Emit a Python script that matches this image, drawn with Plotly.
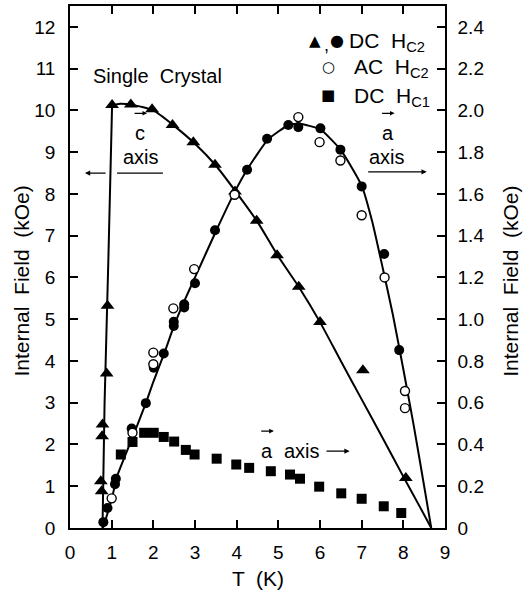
import plotly.graph_objects as go

# ---- data ----
# DC Hc2, c axis (left axis, kOe)
tri_T = [0.74, 0.76, 0.77, 0.78, 0.88, 0.90, 1.01, 1.46, 1.97, 2.46, 2.96, 3.48, 3.96, 4.48, 4.97, 5.49, 6.00, 7.03, 8.06]
tri_H = [1.12, 0.88, 2.20, 2.48, 3.70, 5.32, 10.13, 10.14, 10.03, 9.65, 9.24, 8.70, 8.06, 7.36, 6.53, 5.78, 4.93, 3.78, 1.20]

# fitted curve, c axis (left axis)
c_rise_T = [0.78, 0.83, 0.92, 1.01]
c_rise_H = [0.0, 3.0, 6.4, 10.12]
c_fall_T = [1.01, 1.2, 1.5, 2.0, 2.5, 3.0, 3.5, 3.96, 4.5, 5.0, 5.5, 6.0, 6.5, 7.0, 7.5, 8.0, 8.4, 8.67]
c_fall_H = [10.12, 10.16, 10.13, 10.0, 9.63, 9.2, 8.68, 8.08, 7.33, 6.5, 5.76, 4.93, 4.0, 3.08, 2.16, 1.23, 0.5, 0.0]

# DC Hc2, a axis, filled circles (right axis, kOe)
dc_T = [0.80, 0.90, 1.08, 1.10, 1.48, 1.82, 2.01, 2.25, 2.49, 2.49, 2.74, 2.74, 3.00, 3.48, 4.25, 4.73, 5.24, 5.48, 6.01, 6.49, 7.00, 7.54, 7.90]
dc_H = [0.028, 0.096, 0.21, 0.236, 0.476, 0.598, 0.768, 0.836, 0.968, 0.988, 1.056, 1.072, 1.172, 1.426, 1.716, 1.864, 1.93, 1.92, 1.914, 1.812, 1.636, 1.312, 0.852]

# AC Hc2, a axis, open circles (right axis)
ac_T = [1.00, 1.50, 2.00, 2.00, 2.48, 2.98, 3.95, 5.48, 5.99, 6.49, 7.00, 7.55, 8.04, 8.04]
ac_H = [0.142, 0.456, 0.84, 0.784, 1.052, 1.24, 1.596, 1.968, 1.848, 1.76, 1.498, 1.2, 0.656, 0.574]

# fitted curve, a axis (right axis)
a_fit_T = [0.79, 1.0, 1.12, 1.48, 1.82, 2.0, 2.25, 2.5, 2.75, 3.0, 3.5, 3.96, 4.25, 4.75, 5.25, 5.5, 6.0, 6.5, 7.0, 7.25, 7.5, 7.75, 8.0, 8.25, 8.5, 8.67]
a_fit_H = [0.0, 0.136, 0.242, 0.424, 0.598, 0.70, 0.83, 0.97, 1.09, 1.20, 1.42, 1.612, 1.716, 1.86, 1.93, 1.936, 1.91, 1.81, 1.64, 1.47, 1.25, 1.02, 0.76, 0.49, 0.20, 0.0]

# DC Hc1, a axis, squares (right axis)
hc1_T = [1.22, 1.50, 1.78, 2.01, 2.25, 2.50, 2.78, 2.99, 3.52, 3.99, 4.30, 4.82, 5.28, 5.52, 5.98, 6.51, 7.00, 7.53, 7.95]
hc1_H = [0.352, 0.412, 0.456, 0.456, 0.436, 0.414, 0.374, 0.352, 0.332, 0.304, 0.288, 0.272, 0.256, 0.236, 0.198, 0.166, 0.14, 0.104, 0.072]

x_ticks = [0, 1, 2, 3, 4, 5, 6, 7, 8, 9]
left_ticks = list(range(0, 13))
right_ticks = [0, 0.2, 0.4, 0.6, 0.8, 1.0, 1.2, 1.4, 1.6, 1.8, 2.0, 2.2, 2.4]
right_labels = ["0", "0.2", "0.4", "0.6", "0.8", "1.0", "1.2", "1.4", "1.6", "1.8", "2.0", "2.2", "2.4"]

FONT = "Liberation Sans, Arial, Helvetica, sans-serif"
SYM = "DejaVu Sans, sans-serif"

fig = go.Figure()
line_style = dict(color="black", width=2)

fig.add_trace(go.Scatter(x=c_rise_T, y=c_rise_H, mode="lines", line=line_style, yaxis="y"))
fig.add_trace(go.Scatter(x=c_fall_T, y=c_fall_H, mode="lines", line=dict(color="black", width=2, shape="spline", smoothing=0.6), yaxis="y"))
fig.add_trace(go.Scatter(x=tri_T, y=tri_H, mode="markers", yaxis="y",
                         marker=dict(symbol="triangle-up", size=12, color="black", line=dict(width=0))))

fig.add_trace(go.Scatter(x=a_fit_T, y=a_fit_H, mode="lines", line=dict(color="black", width=2, shape="spline", smoothing=0.5), yaxis="y2"))
fig.add_trace(go.Scatter(x=hc1_T, y=hc1_H, mode="markers", yaxis="y2",
                         marker=dict(symbol="square", size=10, color="black", line=dict(width=0))))
fig.add_trace(go.Scatter(x=dc_T, y=dc_H, mode="markers", yaxis="y2",
                         marker=dict(symbol="circle", size=10, color="black", line=dict(width=0))))
fig.add_trace(go.Scatter(x=ac_T, y=ac_H, mode="markers", yaxis="y2",
                         marker=dict(symbol="circle", size=9, color="white", line=dict(width=1.4, color="black"))))

ann = []
def txt(x, y, s, size=20, xanchor="center", xref="x", yref="y", font=FONT, **kw):
    ann.append(dict(x=x, y=y, xref=xref, yref=yref, text=s, showarrow=False,
                    xanchor=xanchor, yanchor="middle", font=dict(family=font, size=size, color="black"), **kw))

# annotations inside plot
txt(2.10, 10.82, "Single  Crystal")
txt(1.68, 9.45, "c")
txt(1.70, 8.88, "axis")
txt(7.62, 9.45, "a")
txt(7.60, 8.88, "axis")
txt(4.72, 1.84, "a")
txt(5.57, 1.84, "axis")

# small vector arrows over letters
for xv, yv in [(1.68, 9.93), (7.62, 9.93), (4.72, 2.32)]:
    ann.append(dict(x=xv + 0.17, y=yv, xref="x", yref="y", ax=-14, ay=0, showarrow=True,
                    arrowhead=2, arrowsize=0.7, arrowwidth=1.3, arrowcolor="black", text=""))

# long arrows
ann.append(dict(x=0.36, y=8.5, ax=0.89, ay=8.5, xref="x", yref="y", axref="x", ayref="y",
                showarrow=True, arrowhead=2, arrowsize=0.8, arrowwidth=1.3, arrowcolor="black", text=""))
ann.append(dict(x=8.56, y=8.53, ax=7.12, ay=8.53, xref="x", yref="y", axref="x", ayref="y",
                showarrow=True, arrowhead=2, arrowsize=0.8, arrowwidth=1.3, arrowcolor="black", text=""))
ann.append(dict(x=6.71, y=1.84, ax=6.12, ay=1.84, xref="x", yref="y", axref="x", ayref="y",
                showarrow=True, arrowhead=2, arrowsize=0.8, arrowwidth=1.3, arrowcolor="black", text=""))

# legend (manual)
txt(0.739, 0.931, "DC  H<sub>C2</sub>", size=21, xanchor="left", xref="paper", yref="paper")
txt(0.752, 0.881, "AC  H<sub>C2</sub>", size=21, xanchor="left", xref="paper", yref="paper")
txt(0.752, 0.826, "DC  H<sub>C1</sub>", size=21, xanchor="left", xref="paper", yref="paper")
txt(0.653, 0.933, "▲", size=15, xref="paper", yref="paper", font=SYM)
txt(0.683, 0.926, ",", size=18, xref="paper", yref="paper")
txt(0.712, 0.933, "●", size=16, xref="paper", yref="paper", font=SYM)
txt(0.688, 0.883, "○", size=15, xref="paper", yref="paper", font=SYM)
txt(0.688, 0.830, "■", size=15, xref="paper", yref="paper", font=SYM)

# axis titles
txt(-0.128, 0.472, "Internal  Field  (kOe)", size=21, xref="paper", yref="paper", textangle=-90)
txt(1.174, 0.472, "Internal  Field  (kOe)", size=21, xref="paper", yref="paper", textangle=-90)
txt(0.501, -0.097, "T  (K)", size=21, xref="paper", yref="paper")

shapes = [dict(type="line", xref="x", yref="y", x0=1.13, x1=2.23, y0=8.5, y1=8.5,
               line=dict(color="black", width=1.3))]

axis_common = dict(ticks="inside", ticklen=8, tickwidth=1.5, tickcolor="black", automargin=False,
                   showline=True, linecolor="black", linewidth=1.5, showgrid=False, zeroline=False,
                   tickfont=dict(family=FONT, size=19, color="black"))

fig.update_layout(
    width=524, height=596,
    margin=dict(l=70, r=79, t=6, b=68, autoexpand=False),
    plot_bgcolor="white", paper_bgcolor="white",
    showlegend=False,
    xaxis=dict(range=[0, 9], tickvals=x_ticks, mirror="ticks", ticklabelstandoff=6, **axis_common),
    yaxis=dict(range=[0, 12.5], tickvals=left_ticks, ticklabelstandoff=9, **axis_common),
    yaxis2=dict(range=[0, 2.5], tickvals=right_ticks, ticktext=right_labels, overlaying="y", side="right",
                ticklabelstandoff=7, **axis_common),
    annotations=ann,
    shapes=shapes,
)

fig.write_html("out.html", config={"displayModeBar": False},
               post_script="document.body.style.margin='0';document.body.style.overflow='hidden';")
